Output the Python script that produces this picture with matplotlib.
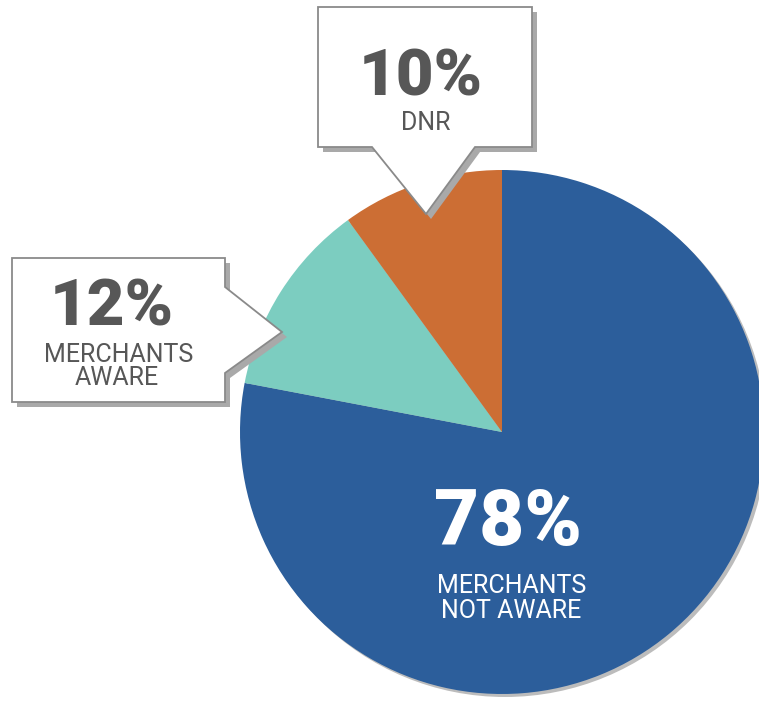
import matplotlib.pyplot as plt
from matplotlib.patches import Polygon, Circle

# Slice data (clockwise from 12 o'clock)
labels = ["MERCHANTS\nNOT AWARE", "MERCHANTS\nAWARE", "DNR"]
values = [78, 12, 10]
colors = ["#2c5e9b", "#7ccdc0", "#cc6e34"]
pct_text = ["78%", "12%", "10%"]

big_font = ["Roboto", "DejaVu Sans"]
small_font = ["Roboto", "DejaVu Sans"]

fig = plt.figure(figsize=(7.59, 7.01), dpi=100)
ax = fig.add_axes([0, 0, 1, 1])

cx, cy, r = 502, 432, 262

# soft shadow under the pie
ax.add_patch(Circle((cx + 3, cy + 3), r, color="#bcbcbc", zorder=1, lw=0))

# y axis is flipped below (pixel coords), so startangle -90 + counterclock
# gives a clockwise pie starting at the top
ax.pie(values, colors=colors, startangle=-90, counterclock=True,
       center=(cx, cy), radius=r, wedgeprops=dict(linewidth=0, zorder=2))

ax.set_xlim(0, 759)
ax.set_ylim(701, 0)
ax.set_aspect("equal")
ax.axis("off")

# callout boxes
dnr_box = [(318, 7), (532, 7), (532, 147), (475, 147), (426, 214),
           (372, 147), (318, 147)]
aware_box = [(12, 258), (225, 258), (225, 287), (282, 332), (225, 373),
             (225, 402), (12, 402)]

for pts in [dnr_box, aware_box]:
    shadow = [(x + 5, y + 5) for x, y in pts]
    ax.add_patch(Polygon(shadow, closed=True, fc="#a9a9a9", ec="none", zorder=3))
    ax.add_patch(Polygon(pts, closed=True, fc="white", ec="#8a8a8a",
                         lw=1.3, zorder=4, joinstyle="miter"))

grey = "#575757"

# DNR
ax.text(421, 95, pct_text[2], ha="center", va="baseline", fontsize=47,
        fontweight=900, color=grey, family=big_font, zorder=5)
ax.text(426, 130, labels[2], ha="center", va="baseline", fontsize=18,
        color=grey, family=small_font, zorder=5)

# merchants aware
ax.text(112, 325, pct_text[1], ha="center", va="baseline", fontsize=47,
        fontweight=900, color=grey, family=big_font, zorder=5)
ax.text(119, 362, labels[1].split("\n")[0], ha="center", va="baseline",
        fontsize=18, color=grey, family=small_font, zorder=5)
ax.text(117, 385, labels[1].split("\n")[1], ha="center", va="baseline",
        fontsize=18, color=grey, family=small_font, zorder=5)

# merchants not aware (inside the blue slice)
ax.text(508, 545, pct_text[0], ha="center", va="baseline", fontsize=56,
        fontweight=900, color="white", family=big_font, zorder=5)
ax.text(512, 593, labels[0].split("\n")[0], ha="center", va="baseline",
        fontsize=18, color="white", family=small_font, zorder=5)
ax.text(511, 618, labels[0].split("\n")[1], ha="center", va="baseline",
        fontsize=18, color="white", family=small_font, zorder=5)

plt.savefig("out.png", dpi=100, facecolor="white")
